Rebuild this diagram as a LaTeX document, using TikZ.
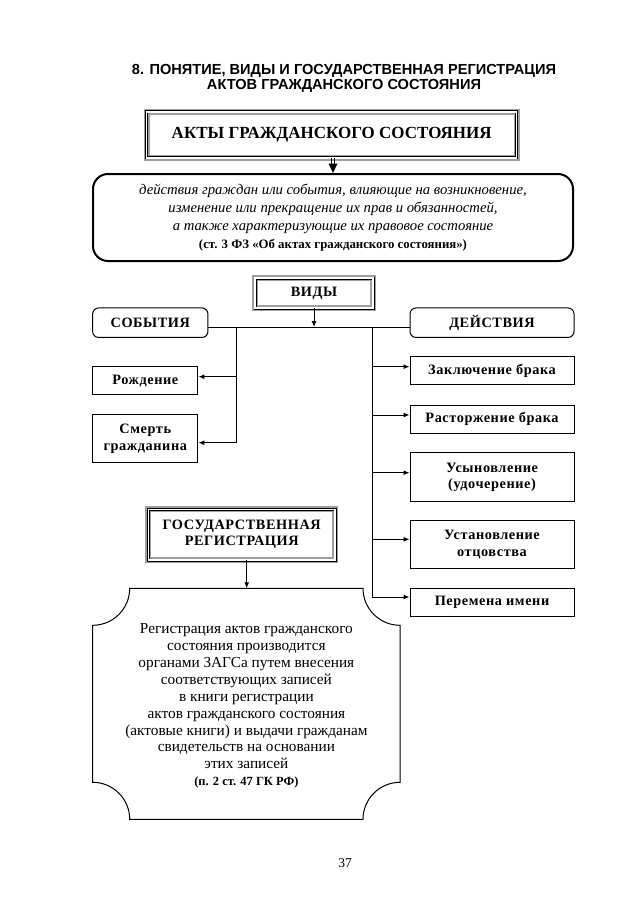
\documentclass[tikz,border=0pt]{standalone}
\usepackage{fontspec}
\setmainfont{Liberation Serif}
\newfontfamily\titlefont{Liberation Sans}
\newfontfamily\spacedfont[LetterSpace=4]{Liberation Serif}
\usetikzlibrary{arrows.meta}
\tikzset{
  box/.style={draw, line width=1pt, inner sep=0pt, align=center, font=\spacedfont\fontsize{14.3}{16.5}\selectfont\bfseries},
  rbox/.style={box, rounded corners=6pt},
  dframe/.style={draw=black, line width=0.8pt, double=white, double distance=1.4pt,
     preaction={draw=gray!75, line width=6pt}, inner sep=0pt, align=center},
  arr/.style={line width=1pt, -{Latex[length=6pt,width=5pt]}},
  link/.style={line width=1pt},
}
\begin{document}
\begin{tikzpicture}[x=1pt,y=-1pt]
\useasboundingbox (0,0) rectangle (638,903);
% title
\node[font=\titlefont\bfseries\fontsize{14.6}{15.3}\selectfont, align=center] (title) at (344,78.5)
  {8. ПОНЯТИЕ, ВИДЫ И ГОСУДАРСТВЕННАЯ РЕГИСТРАЦИЯ\\АКТОВ ГРАЖДАНСКОГО СОСТОЯНИЯ};
% top box
\node[dframe, minimum width=370pt, minimum height=46pt, font=\fontsize{17}{19}\selectfont\bfseries] (akty) at (331.7,134.8) {АКТЫ ГРАЖДАНСКОГО СОСТОЯНИЯ};
% definition box
\node[draw, line width=2pt, rounded corners=15pt, minimum width=480pt, minimum height=87pt, inner sep=0pt, align=center,
  font=\fontsize{14.7}{17.8}\selectfont\itshape] (def) at (333,217.5)
  {действия граждан или события, влияющие на возникновение,\\изменение или прекращение их прав и обязанностей,\\а также характеризующие их правовое состояние\\{\upshape\bfseries\fontsize{12.8}{15.5}\selectfont (ст. 3 ФЗ «Об актах гражданского состояния»)}};
% double arrow
\coordinate (da) at (akty.south -| def.north);
\coordinate (db) at (333,163.5);
\draw[line width=0.9pt] ([xshift=-1.8pt]da) -- ([xshift=-1.8pt]db);
\draw[line width=0.9pt] ([xshift=1.8pt]da) -- ([xshift=1.8pt]db);
\fill ([xshift=-4.5pt]db) -- ([xshift=4.5pt]db) -- (def.north) -- cycle;
% vidy
\node[dframe, minimum width=118pt, minimum height=30pt, font=\spacedfont\fontsize{14.3}{16}\selectfont\bfseries] (vidy) at (314,293) {ВИДЫ};
\node[rbox, minimum width=115.3pt, minimum height=29.5pt] (sob) at (150.3,322.7) {СОБЫТИЯ};
\node[rbox, minimum width=164pt, minimum height=29.5pt] (dei) at (492,322.7) {ДЕЙСТВИЯ};
\coordinate (hl) at (208,327);
\coordinate (hr) at (410,327);
\draw[link] (hl) -- (hr);
\draw[arr] (vidy.south) -- (vidy.south |- hl);
% left branch
\node[box, minimum width=105.3pt, minimum height=28.3pt] (rozh) at (145.3,380.8) {Рождение};
\node[box, minimum width=105.3pt, minimum height=47.7pt] (smert) at (145.3,438.8) {Смерть\\гражданина};
\coordinate (lt) at (236.7,327);
\coordinate (l1) at (236.7,376.7);
\coordinate (l2) at (236.7,442.7);
\draw[link] (lt) -- (l2);
\draw[arr] (l1) -- (l1 -| rozh.east);
\draw[arr] (l2) -- (l2 -| smert.east);
% right branch
\node[box, minimum width=164pt, minimum height=28.3pt] (zakl) at (492,370.8) {Заключение брака};
\node[box, minimum width=164pt, minimum height=28pt] (rast) at (492,419) {Расторжение брака};
\node[box, minimum width=164pt, minimum height=48.7pt] (usyn) at (492,477.3) {Усыновление\\(удочерение)};
\node[box, minimum width=164pt, minimum height=48.3pt] (otc) at (492,544.8) {Установление\\отцовства};
\node[box, minimum width=164pt, minimum height=28.4pt] (imya) at (492,602.5) {Перемена имени};
\coordinate (rt) at (372.3,327);
\coordinate (r1) at (372.3,366.7);
\coordinate (r2) at (372.3,415);
\coordinate (r3) at (372.3,472.7);
\coordinate (r4) at (372.3,539.3);
\coordinate (r5) at (372.3,597);
\draw[link] (rt) -- (r5);
\draw[arr] (r1) -- (r1 -| zakl.west);
\draw[arr] (r2) -- (r2 -| rast.west);
\draw[arr] (r3) -- (r3 -| usyn.west);
\draw[arr] (r4) -- (r4 -| otc.west);
\draw[arr] (r5) -- (r5 -| imya.west);
% state registration
\node[dframe, minimum width=186.7pt, minimum height=50.7pt, font=\spacedfont\fontsize{14.3}{16}\selectfont\bfseries] (gos) at (241.7,534.7) {ГОСУДАРСТВЕННАЯ\\РЕГИСТРАЦИЯ};
\coordinate (regtop) at (246.7,588.3);
\draw[link] (129.7,588.3) -- (363,588.3) .. controls (363,608.7) and (379.6,625.3) .. (400,625.3)
  -- (400,782.3) .. controls (379.6,782.3) and (363,798.9) .. (363,819.3)
  -- (129.7,819.3) .. controls (129.7,798.9) and (113.1,782.3) .. (92.7,782.3)
  -- (92.7,625.3) .. controls (113.1,625.3) and (129.7,608.7) .. cycle;
\draw[arr] (gos.south -| regtop) -- (regtop);
\node[align=center, font=\fontsize{15.3}{16.9}\selectfont] (regtext) at (246.4,706)
  {Регистрация актов гражданского\\состояния производится\\органами ЗАГСа путем внесения\\соответствующих записей\\в книги регистрации\\актов гражданского состояния\\(актовые книги) и выдачи гражданам\\свидетельств на основании\\этих записей\\{\bfseries\fontsize{12.5}{15}\selectfont (п. 2 ст. 47 ГК РФ)}};
% page number
\node[font=\fontsize{13.5}{15}\selectfont] (page) at (345,863) {37};
\end{tikzpicture}
\end{document}
